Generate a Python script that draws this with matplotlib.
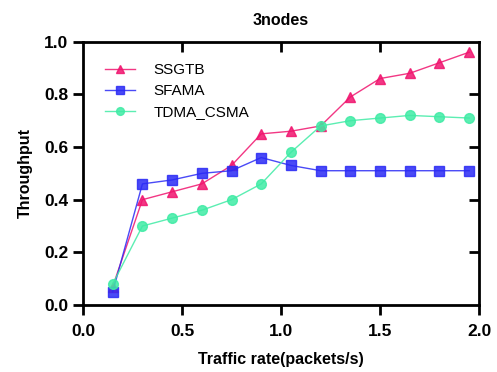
import matplotlib.pyplot as plt

plt.rcParams['font.family'] = ['Liberation Sans', 'DejaVu Sans']

# traffic rate values (packets/s)
rate = [0.15, 0.3, 0.45, 0.6, 0.75, 0.9, 1.05, 1.2, 1.35, 1.5, 1.65, 1.8, 1.95]

ssgtb = [0.07, 0.40, 0.43, 0.46, 0.53, 0.65, 0.66, 0.68, 0.79, 0.86, 0.88, 0.92, 0.96]
sfama = [0.05, 0.46, 0.475, 0.50, 0.51, 0.56, 0.53, 0.51, 0.51, 0.51, 0.51, 0.51, 0.51]
tdma_csma = [0.08, 0.30, 0.33, 0.36, 0.40, 0.46, 0.58, 0.68, 0.70, 0.71, 0.72, 0.715, 0.71]

fig = plt.figure(figsize=(4.97, 3.72), dpi=100)
ax = fig.add_axes([0.167, 0.18, 0.797, 0.708])

ax.plot(rate, ssgtb, color='#F0146E', marker='^', markersize=7, linewidth=1, alpha=0.85, label='SSGTB')
ax.plot(rate, sfama, color='#2A2AF5', marker='s', markersize=7, linewidth=1, alpha=0.85, label='SFAMA')
ax.plot(rate, tdma_csma, color='#3FEBA5', marker='o', markersize=7, linewidth=1, alpha=0.85, label='TDMA_CSMA')

ax.set_xlim(0, 2.0)
ax.set_ylim(0, 1.0)
ax.set_xticks([0, 0.5, 1.0, 1.5, 2.0])
ax.set_yticks([0, 0.2, 0.4, 0.6, 0.8, 1.0])
ax.set_xticklabels(['0.0', '0.5', '1.0', '1.5', '2.0'])
ax.set_yticklabels(['0.0', '0.2', '0.4', '0.6', '0.8', '1.0'])

for s in ax.spines.values():
    s.set_linewidth(2)

ax.tick_params(axis='both', which='major', direction='out', length=7, width=2,
               labelsize=12.5)
ax.tick_params(axis='x', pad=7)
for lab in ax.get_xticklabels() + ax.get_yticklabels():
    lab.set_fontweight('bold')

# inward ticks on top and right
axt = ax.secondary_xaxis('top')
axt.set_xticks([0.5, 1.0, 1.5])
axt.tick_params(direction='in', length=7, width=2, labeltop=False)
axt.spines['top'].set_visible(False)
axr = ax.secondary_yaxis('right')
axr.set_yticks([0.2, 0.4, 0.6, 0.8])
axr.tick_params(direction='in', length=7, width=2, labelright=False)
axr.spines['right'].set_visible(False)

ax.set_xlabel('Traffic rate(packets/s)', fontsize=11.5, fontweight='bold', labelpad=9)
ax.set_ylabel('Throughput', fontsize=11.5, fontweight='bold', labelpad=8)
ax.set_title('3nodes', fontsize=11.5, fontweight='bold', pad=12)

ax.legend(loc='upper left', frameon=False, fontsize=11, handlelength=2.0,
          borderaxespad=0.5, labelspacing=0.45, handletextpad=1.2,
          markerscale=0.8, bbox_to_anchor=(0.02, 0.97))

fig.savefig('out.png', dpi=100)
